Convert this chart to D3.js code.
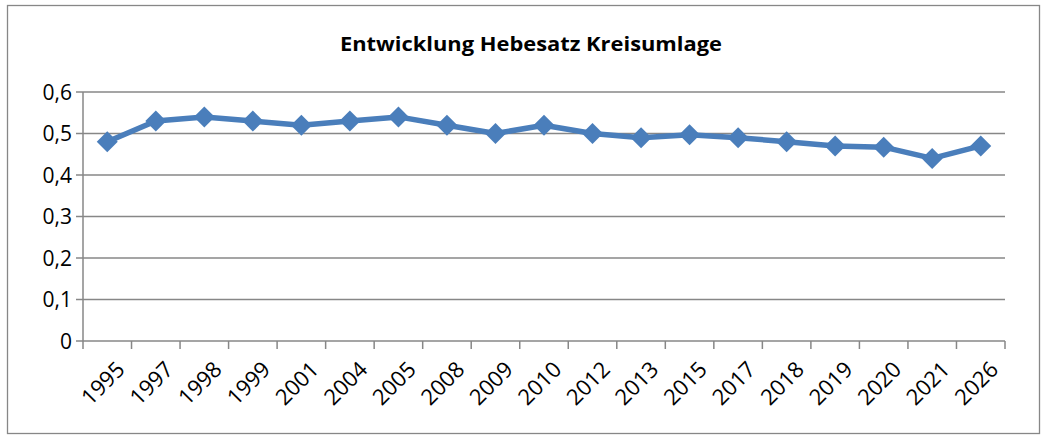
<!DOCTYPE html>
<html>
<head>
<meta charset="utf-8">
<script src="https://cdn.jsdelivr.net/npm/d3@7"></script>
<style>
  body { margin: 0; background: #fff; }
  svg { display: block; font-family: "Open Sans", "Liberation Sans", sans-serif; }
</style>
</head>
<body>
<div class="chart"></div>
<script>
let years = ["1995", "1997", "1998", "1999", "2001", "2004", "2005", "2008", "2009", "2010",
  "2012", "2013", "2015", "2017", "2018", "2019", "2020", "2021", "2026"]
let rates = [0.48, 0.53, 0.54, 0.53, 0.52, 0.53, 0.54, 0.52, 0.50, 0.52,
  0.50, 0.49, 0.497, 0.49, 0.48, 0.47, 0.467, 0.44, 0.47]
let yTicks = [0, 0.1, 0.2, 0.3, 0.4, 0.5, 0.6]
let title = "Entwicklung Hebesatz Kreisumlage"

let width = 1045, height = 436
let plot = { left: 83, right: 1005, top: 92, bottom: 341 }
let gray = "#878787", blue = "#4a7ebb"

let svg = d3.select(".chart")
  .append("svg")
  .attr("width", width)
  .attr("height", height)

// rahmen
svg.append("rect")
  .attr("x", 7.5).attr("y", 5.5)
  .attr("width", 1032).attr("height", 428)
  .attr("fill", "#fff")
  .attr("stroke", gray)
  .attr("stroke-width", 1.3)

svg.append("text")
  .attr("x", 531).attr("y", 51)
  .attr("text-anchor", "middle")
  .attr("font-size", 19)
  .attr("font-weight", "bold")
  .attr("textLength", 382)
  .attr("lengthAdjust", "spacingAndGlyphs")
  .text(title)

let x = d3.scaleBand().domain(years).range([plot.left, plot.right])
let y = d3.scaleLinear().domain([0, 0.6]).range([plot.bottom, plot.top])
let fmt = d => d3.format(".1f")(d).replace(".", ",")

// gitterlinien
svg.append("g")
  .selectAll("line")
  .data(yTicks)
  .enter()
  .append("line")
  .attr("x1", plot.left - 7).attr("x2", plot.right)
  .attr("y1", d => y(d)).attr("y2", d => y(d))
  .attr("stroke", gray)
  .attr("stroke-width", 1.5)

svg.append("line")
  .attr("x1", plot.left).attr("x2", plot.left)
  .attr("y1", plot.top).attr("y2", plot.bottom)
  .attr("stroke", gray).attr("stroke-width", 1.5)

svg.append("g")
  .selectAll("text")
  .data(yTicks)
  .enter()
  .append("text")
  .attr("x", 72)
  .attr("y", d => y(d))
  .attr("dy", "0.36em")
  .attr("text-anchor", "end")
  .attr("font-size", 21)
  .attr("fill", "#000")
  .text(d => d === 0 ? "0" : fmt(d))

// x-achse ticks
let tickPos = years.map(d => x(d)).concat([plot.right])
svg.append("g")
  .selectAll("line")
  .data(tickPos)
  .enter()
  .append("line")
  .attr("x1", d => d).attr("x2", d => d)
  .attr("y1", plot.bottom).attr("y2", plot.bottom + 8)
  .attr("stroke", gray).attr("stroke-width", 1.5)

svg.append("g")
  .selectAll("text")
  .data(years)
  .enter()
  .append("text")
  .attr("transform", d => `translate(${x(d) + x.bandwidth() / 2 + 8},${plot.bottom + 19}) rotate(-45)`)
  .attr("text-anchor", "end")
  .attr("dy", "0.7em")
  .attr("font-size", 22)
  .attr("fill", "#000")
  .text(d => d)

// linie
let line = d3.line()
  .x((d, i) => x(years[i]) + x.bandwidth() / 2)
  .y(d => y(d))

svg.append("path")
  .datum(rates)
  .attr("d", line)
  .attr("fill", "none")
  .attr("stroke", blue)
  .attr("stroke-width", 5.5)
  .attr("stroke-linejoin", "round")

let diamond = d3.symbol().type(d3.symbolSquare).size(220)
svg.append("g")
  .selectAll("path")
  .data(rates)
  .enter()
  .append("path")
  .attr("d", diamond)
  .attr("transform", (d, i) => `translate(${x(years[i]) + x.bandwidth() / 2},${y(d)}) rotate(45)`)
  .attr("fill", blue)
</script>
</body>
</html>
